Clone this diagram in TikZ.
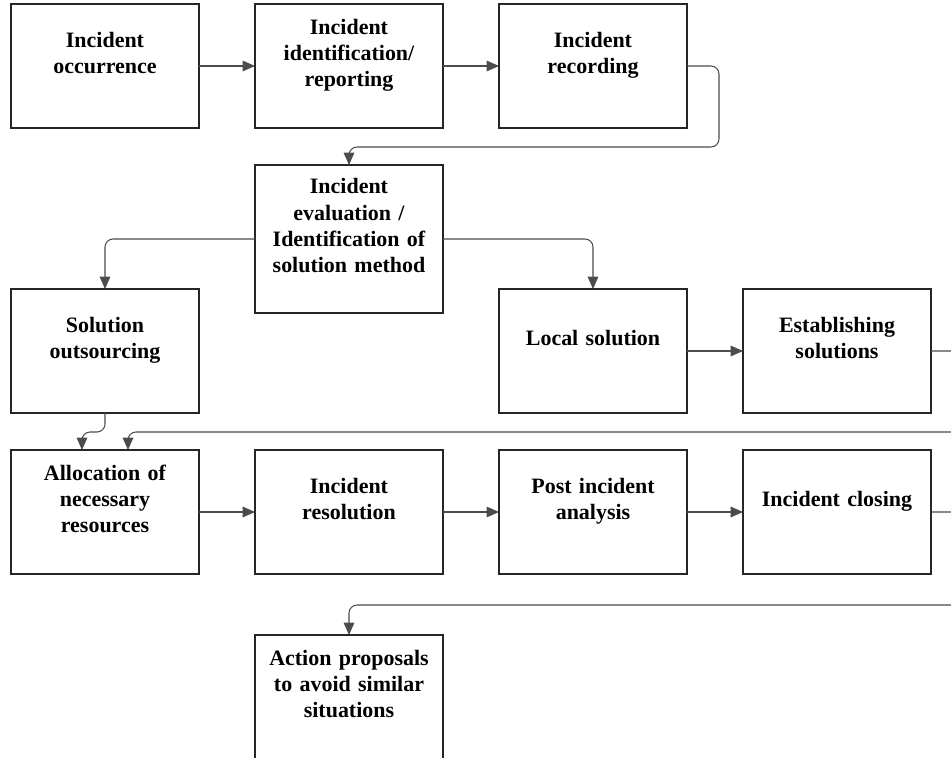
\documentclass[tikz,border=0pt]{standalone}
\usepackage{fontspec}
\setmainfont{Liberation Serif}
\usetikzlibrary{positioning, arrows.meta}

\begin{document}
\begin{tikzpicture}[
  node distance=0.74cm and 1.12cm,
  box/.style={draw=black!85, line width=1pt, outer sep=0pt,
              minimum width=3.76cm, minimum height=2.48cm,
              text width=3.5cm, align=center,
              font=\fontsize{12.5}{15}\selectfont\bfseries,
              execute at end node={\endgraf\mbox{}}},
  link/.style={->, draw=black!70, line width=0.6pt, rounded corners=0.16cm},
  >={Triangle[length=7pt, width=6pt]}
]
  % Frame
  \useasboundingbox (0,0) rectangle (19.02,-15.16);
  \clip (0,0) rectangle (19.02,-15.16);

  % Nodes
  \node[box] (occ) at (2.10,-1.32) {Incident\\occurrence};
  \node[box, right=of occ] (ident) {Incident\\identification/\\reporting};
  \node[box, right=of ident] (rec) {Incident\\recording};
  \node[box, below=of ident, minimum height=2.96cm] (eval)
    {Incident\\evaluation /\\Identification of\\solution method};
  \node[box, below=3.22cm of occ] (outs) {Solution\\outsourcing};
  \node[box, below=3.22cm of rec] (local) {Local solution};
  \node[box, right=of local] (est) {Establishing\\solutions};
  \node[box, below=of outs] (alloc) {Allocation of\\necessary\\resources};
  \node[box, right=of alloc] (resol) {Incident\\resolution};
  \node[box, right=of resol] (post) {Post incident\\analysis};
  \node[box, right=of post] (close) {Incident closing};
  \node[box, below=1.22cm of resol] (action)
    {Action proposals\\to avoid similar\\situations};

  % Edges
  \draw[link] (occ) -- (ident);
  \draw[link] (ident) -- (rec);
  \draw[link] (rec.east) -- ++(0.64,0) |- ([yshift=0.36cm]eval.north) -- (eval);
  \draw[link] (eval) -| (outs);
  \draw[link] (eval) -| (local);
  \draw[link] (local) -- (est);
  \draw[link] (outs) |- ([xshift=-0.46cm, yshift=0.36cm]alloc.north)
    -- ([xshift=-0.46cm]alloc.north);
  \draw[link] (est.east) -- ++(0.9,0) |- ([xshift=0.46cm, yshift=0.36cm]alloc.north)
    -- ([xshift=0.46cm]alloc.north);
  \draw[link] (alloc) -- (resol);
  \draw[link] (resol) -- (post);
  \draw[link] (post) -- (close);
  \draw[link] (close.east) -- ++(0.9,0) |- ([yshift=0.6cm]action.north) -- (action);
\end{tikzpicture}
\end{document}
